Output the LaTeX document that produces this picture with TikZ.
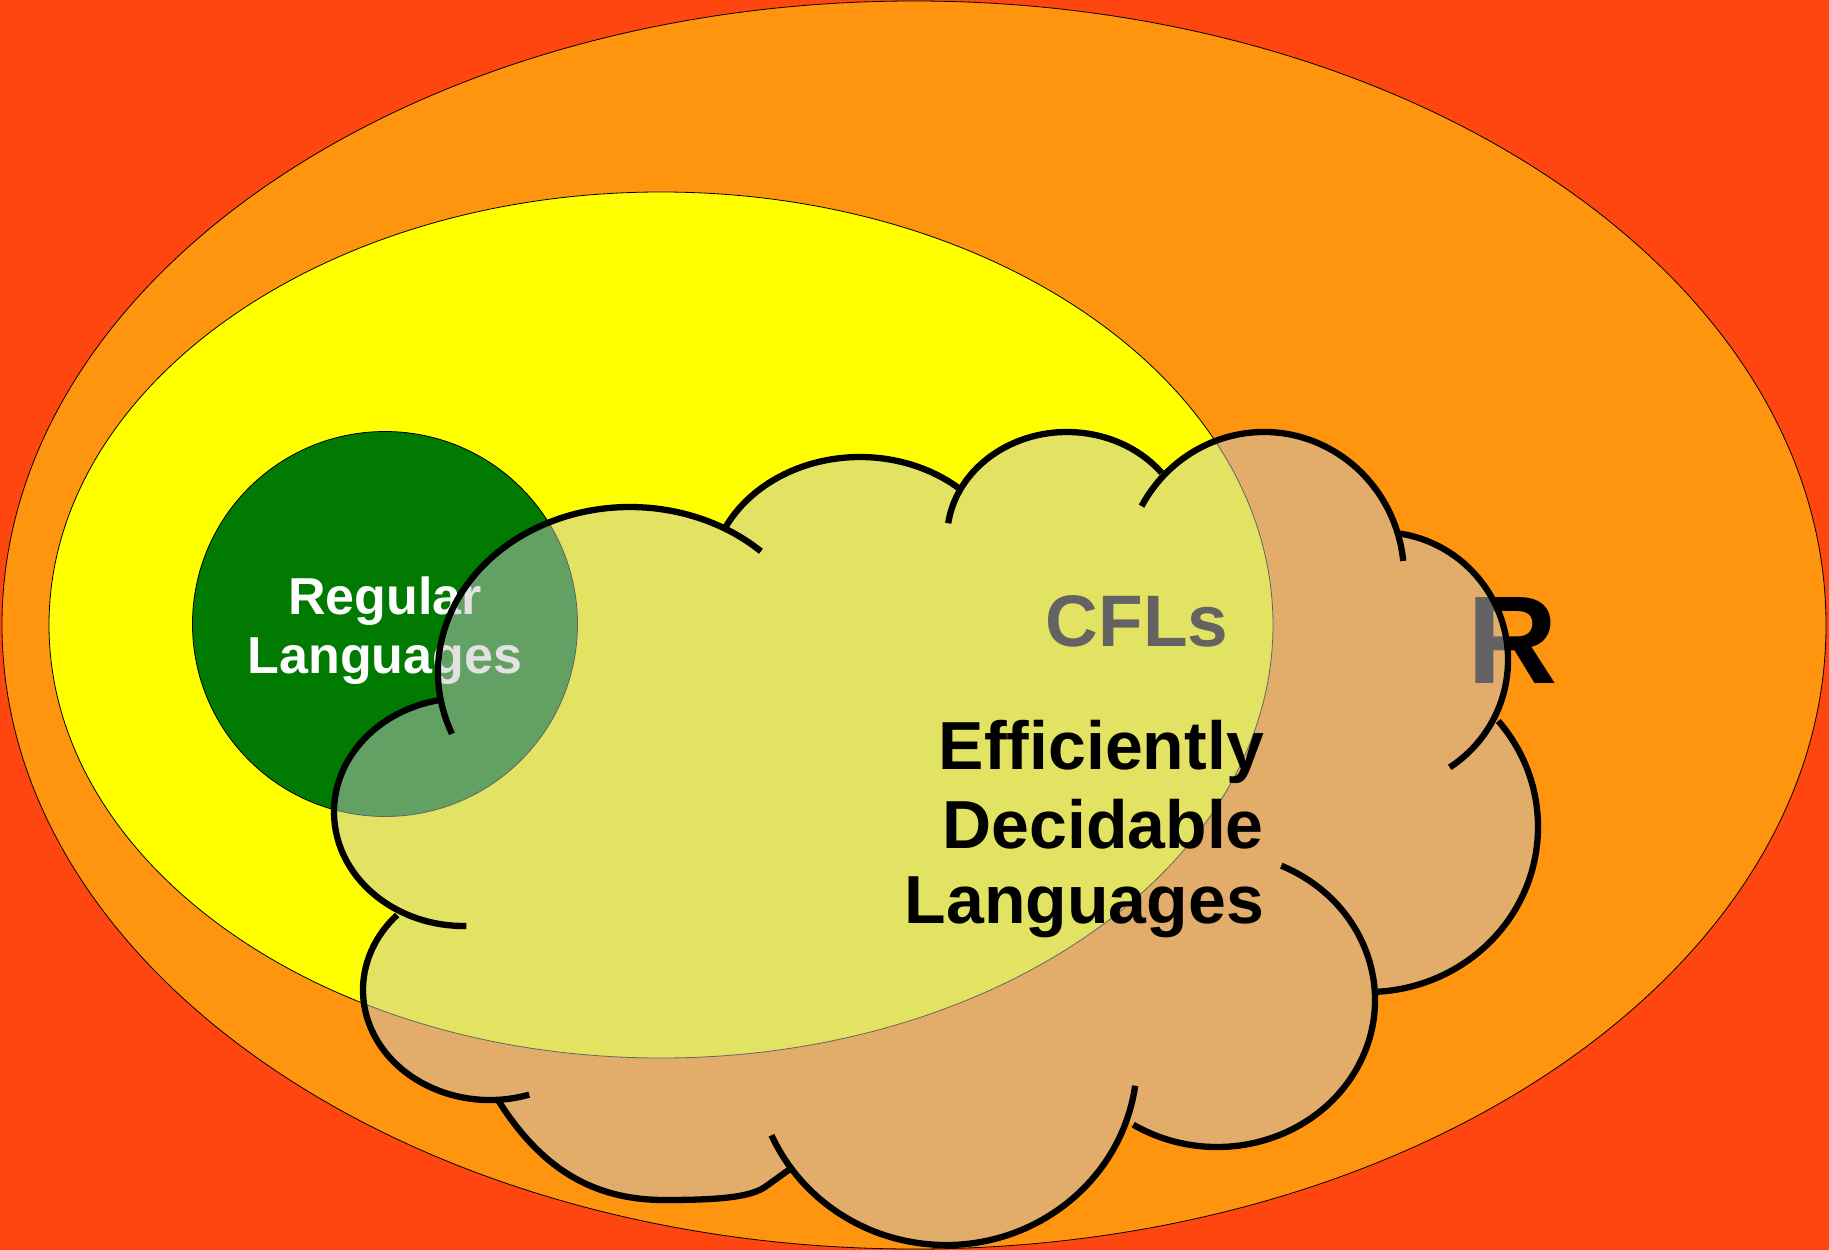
\documentclass[tikz,border=0pt]{standalone}
\usepackage{fontspec}
\setmainfont{Liberation Sans}
\begin{document}
\begin{tikzpicture}[x=1pt,y=-1pt,
  rim/.style={draw=black,line width=0.8pt},
  cloudline/.style={draw=black,line width=6.3pt},
  cloudfill/.style={fill=cloudgray,fill opacity=0.5},
  lbl/.style={inner sep=0pt,anchor=base,font=\bfseries}]
\definecolor{bgred}{RGB}{255,69,16}
\definecolor{orangeR}{RGB}{255,148,14}
\definecolor{yellowC}{RGB}{255,255,0}
\definecolor{greenReg}{RGB}{0,122,0}
\definecolor{cloudgray}{RGB}{199,199,199}
\useasboundingbox (0,0) rectangle (1829,1250);
\fill[bgred] (0,0) rectangle (1829,1250);
% R
\draw[rim,fill=orangeR] (914,625) ellipse[x radius=912, y radius=624];
% CFLs
\draw[rim,fill=yellowC] (661,625) ellipse[x radius=612, y radius=433];
% Regular
\draw[rim,fill=greenReg] (385,624) ellipse[x radius=192.5, y radius=192.5];
% labels under the cloud
\node[lbl,text=white,font=\bfseries\fontsize{52}{60}\selectfont] (reg1) at (385,614) {Regular};
\node[lbl,text=white,font=\bfseries\fontsize{52}{60}\selectfont] (reg2) at (385,673) {Languages};
\node[lbl,text=black,font=\bfseries\fontsize{73}{80}\selectfont] (cfl) at (1137,646) {CFLs};
\node[lbl,text=black,font=\bfseries\fontsize{125}{130}\selectfont] (rlab) at (1513,683) {R};
% cloud fill (one path, union of bumps and core)
\fill[cloudfill]
  (630,672) ellipse[x radius=192, y radius=165]
  (860,583) ellipse[x radius=150, y radius=126]
  (1067,538) ellipse[x radius=120, y radius=106]
  (1264,576) ellipse[x radius=140, y radius=144]
  (1380,660) ellipse[x radius=128, y radius=128]
  (1368,827) ellipse[x radius=170, y radius=165]
  (1217,1000) ellipse[x radius=158, y radius=147]
  (946,1060) ellipse[x radius=191, y radius=185]
  (490,990) ellipse[x radius=127, y radius=110]
  (464,812) ellipse[x radius=130, y radius=114]
  (446,704) -- (727,533) -- (957,497) -- (1161,477) -- (1396,537)
  -- (1492,724) -- (1370,994) -- (1130,1120) -- (790,1168)
  -- (765,1187) .. controls (750,1197) and (720,1200) .. (665,1200)
  .. controls (600,1200) and (545,1175) .. (498,1100)
  -- (398,912) -- cycle;
% cloud outline
\draw[cloudline] (630,672) ++(158:192 and 165) arc[start angle=158, end angle=313, x radius=192, y radius=165];
\draw[cloudline] (860,583) ++(-154:150 and 126) arc[start angle=-154, end angle=-48, x radius=150, y radius=126];
\draw[cloudline] (1067,538) ++(-172:120 and 106) arc[start angle=-172, end angle=-38, x radius=120, y radius=106];
\draw[cloudline] (1264,576) ++(-151:140 and 144) arc[start angle=-151, end angle=-6, x radius=140, y radius=144];
\draw[cloudline] (1380,660) ++(-81:128 and 128) arc[start angle=-81, end angle=57, x radius=128, y radius=128];
\draw[cloudline] (1368,827) ++(-40:170 and 165) arc[start angle=-40, end angle=88, x radius=170, y radius=165];
\draw[cloudline] (1217,1000) ++(-66:158 and 147) arc[start angle=-66, end angle=122, x radius=158, y radius=147];
\draw[cloudline] (946,1060) ++(8:191 and 185) arc[start angle=8, end angle=156, x radius=191, y radius=185];
\draw[cloudline] (790,1169) -- (765,1187) .. controls (750,1197) and (720,1200) .. (665,1200)
  .. controls (600,1200) and (545,1175) .. (498,1100);
\draw[cloudline] (490,990) ++(72:127 and 110) arc[start angle=72, end angle=223, x radius=127, y radius=110];
\draw[cloudline] (464,812) ++(89:130 and 114) arc[start angle=89, end angle=260, x radius=130, y radius=114];
% label on top
\node[lbl,anchor=base east,font=\bfseries\fontsize{68}{76}\selectfont] (eff1) at (1264,769) {Efficiently};
\node[lbl,anchor=base east,font=\bfseries\fontsize{68}{76}\selectfont] (eff2) at (1264,848) {Decidable};
\node[lbl,anchor=base east,font=\bfseries\fontsize{68}{76}\selectfont] (eff3) at (1264,923) {Languages};
\end{tikzpicture}
\end{document}
